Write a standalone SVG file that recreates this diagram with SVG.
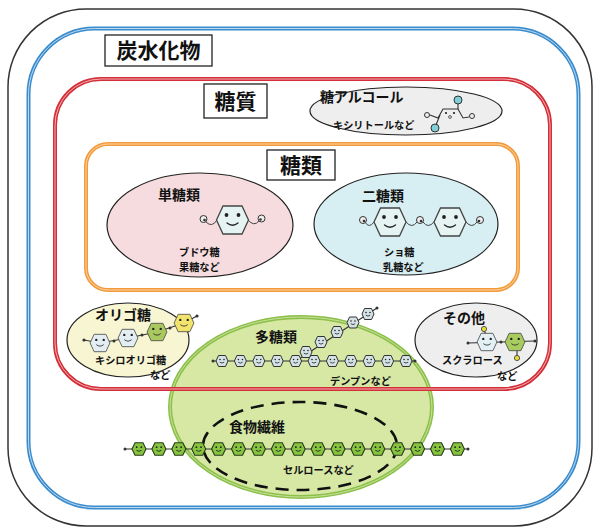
<svg xmlns="http://www.w3.org/2000/svg" xmlns:xlink="http://www.w3.org/1999/xlink" width="599" height="531" viewBox="0 0 599 531">
  <style>
    text { font-family: "Noto Sans CJK JP", "Noto Sans", sans-serif; font-weight: 700; fill: #111; }
    .title { font-size: 21px; }
    .label { font-size: 14px; }
    .small { font-size: 10.2px; }
    .tbox { fill: #fff; stroke: #222; stroke-width: 1.3; }
    .ell { stroke: #222; stroke-width: 1.2; }
    .hex { stroke: #444; stroke-width: 1.3; }
    .feat { fill: #222; }
    .smile { fill: none; stroke: #222; stroke-width: 1.3; stroke-linecap: round; }
    .arm { fill: none; stroke: #444; stroke-width: 1; }
    .bond { fill: none; stroke: #333; stroke-width: 1.1; }
    .knob { fill: #eee; stroke: #333; stroke-width: 1; }
    .dot { fill: #333; }
  </style>
  <defs>
    <!-- hexagon sugar unit with a face, unit size 16 -->
    <g id="sugar">
      <polygon class="hex" points="-16,0 -9.5,-14 9.5,-14 16,0 9.5,14 -9.5,14"/>
      <circle class="feat" cx="-6" cy="-5" r="1.9"/>
      <circle class="feat" cx="6" cy="-5" r="1.9"/>
      <path class="smile" d="M-5.5,3 Q0,7.5 5.5,3"/>
    </g>
    <!-- tiny chain unit -->
    <g id="bead">
      <polygon points="-6,0 -3.5,-5.5 3.5,-5.5 6,0 3.5,5.5 -3.5,5.5" stroke="#333" stroke-width="1"/>
      <circle class="feat" cx="-2" cy="-1.5" r="0.8"/>
      <circle class="feat" cx="2" cy="-1.5" r="0.8"/>
      <path d="M-2.2,1.2 Q0,3 2.2,1.2" fill="none" stroke="#222" stroke-width="0.8"/>
    </g>
    <g id="gbead">
      <polygon points="-7,0 -4,-6.3 4,-6.3 7,0 4,6.3 -4,6.3" stroke="#2a3a1a" stroke-width="1.1"/>
      <circle class="feat" cx="-2.3" cy="-1.8" r="0.9"/>
      <circle class="feat" cx="2.3" cy="-1.8" r="0.9"/>
      <path d="M-2.5,1.3 Q0,3.4 2.5,1.3" fill="none" stroke="#222" stroke-width="0.9"/>
    </g>
  </defs>

  <rect width="599" height="531" fill="#fff"/>

  <!-- polysaccharide area sits behind the frame lines -->
  <g id="polysaccharide-area">
    <ellipse cx="301" cy="407" rx="131" ry="90" fill="#d6e8a4" stroke="#8cc04a" stroke-width="4"/>
    <ellipse cx="301" cy="407" rx="131" ry="90" fill="none" stroke="#c8e09a" stroke-width="1"/>
  </g>

  <!-- nested frames -->
  <g id="carbohydrate">
    <rect x="8" y="9" width="584" height="517" rx="78" fill="none" stroke="#333" stroke-width="1.5"/>
    <rect x="28.5" y="28.5" width="550" height="479" rx="66" fill="none" stroke="#3a8ccd" stroke-width="4"/>
    <rect x="28.5" y="28.5" width="550" height="479" rx="66" fill="none" stroke="#bcd9f0" stroke-width="1"/>
    <rect class="tbox" x="105" y="35" width="107" height="31"/>
    <text class="title" x="158.5" y="58" text-anchor="middle">炭水化物</text>
  </g>

  <g id="sugar-group">
    <rect x="55" y="79" width="495" height="310" rx="46" fill="none" stroke="#d42e38" stroke-width="4"/>
    <rect x="55" y="79" width="495" height="310" rx="46" fill="none" stroke="#f2b0b4" stroke-width="1"/>
    <rect class="tbox" x="204" y="84" width="63" height="34"/>
    <text class="title" x="235.5" y="109" text-anchor="middle">糖質</text>
  </g>

  <g id="saccharides">
    <rect x="86" y="144" width="432" height="146" rx="22" fill="none" stroke="#f39a3a" stroke-width="4"/>
    <rect x="86" y="144" width="432" height="146" rx="22" fill="none" stroke="#fbd5a8" stroke-width="1"/>
    <rect class="tbox" x="267" y="150" width="68" height="30"/>
    <text class="title" x="301" y="173" text-anchor="middle">糖類</text>
  </g>

  <!-- sugar alcohol -->
  <g id="sugar-alcohol">
    <ellipse class="ell" cx="406" cy="111" rx="96" ry="24" fill="#eeeeee"/>
    <text class="label" x="320" y="102">糖アルコール</text>
    <text class="small" x="333" y="129">キシリトールなど</text>
    <path class="bond" d="M430,115 L438,118 L443,109 L458,109 L463,118 L469,117"/>
    <path class="bond" d="M458,109 L458,103 M440,115 L436,125"/>
    <circle cx="458" cy="100" r="4" fill="#7fcfd6" stroke="#333" stroke-width="1"/>
    <circle cx="435" cy="128" r="4" fill="#7fcfd6" stroke="#333" stroke-width="1"/>
    <circle class="knob" cx="427" cy="115" r="2.5"/>
    <circle class="knob" cx="472" cy="116" r="2.5"/>
    <circle class="feat" cx="446" cy="113" r="1.1"/>
    <circle class="feat" cx="454" cy="113" r="1.1"/>
    <circle cx="450" cy="117" r="1.4" fill="none" stroke="#333" stroke-width="0.8"/>
  </g>

  <!-- monosaccharides -->
  <g id="monosaccharides">
    <ellipse class="ell" cx="200" cy="225" rx="93" ry="52" fill="#f6dcde"/>
    <text class="label" x="158" y="200">単糖類</text>
    <path class="arm" d="M217,220 Q212,228 206,222"/>
    <path class="arm" d="M248,220 Q254,227 259,221"/>
    <circle class="knob" cx="203.5" cy="219" r="3.5"/>
    <circle class="dot" cx="204.5" cy="220" r="1.3"/>
    <circle class="knob" cx="261.5" cy="218.5" r="3.5"/>
    <circle class="dot" cx="260.5" cy="219.5" r="1.3"/>
    <use xlink:href="#sugar" href="#sugar" x="232.5" y="220" fill="#e6f3f3"/>
    <text class="small" x="179" y="256">ブドウ糖</text>
    <text class="small" x="179" y="270.5">果糖など</text>
  </g>

  <!-- disaccharides -->
  <g id="disaccharides">
    <ellipse class="ell" cx="406" cy="224" rx="92" ry="51" fill="#d7eef2"/>
    <text class="label" x="362" y="201">二糖類</text>
    <path class="arm" d="M374,222 Q369,229 365,222"/>
    <path class="arm" d="M406,222 Q412,229 417,222"/>
    <path class="arm" d="M423,222 Q428,229 434,222"/>
    <path class="arm" d="M466,222 Q472,229 477,222"/>
    <circle class="knob" cx="363" cy="220" r="3.5"/>
    <circle class="dot" cx="364" cy="221" r="1.3"/>
    <circle class="knob" cx="420" cy="220" r="3.5"/>
    <circle class="dot" cx="421" cy="221" r="1.3"/>
    <circle class="knob" cx="480" cy="220" r="3.5"/>
    <circle class="dot" cx="479" cy="221" r="1.3"/>
    <use xlink:href="#sugar" href="#sugar" x="390" y="222" fill="#e6f3f3"/>
    <use xlink:href="#sugar" href="#sugar" x="450" y="222" fill="#e6f3f3"/>
    <text class="small" x="384" y="256">ショ糖</text>
    <text class="small" x="383" y="270.5">乳糖など</text>
  </g>

  <!-- oligosaccharides -->
  <g id="oligosaccharides">
    <ellipse class="ell" cx="128" cy="340" rx="61" ry="37" fill="#f8f5d2"/>
    <text class="label" x="95" y="320">オリゴ糖</text>
    <path class="bond" d="M84,340 L100,343 L128,338 L157,332 L184,323 L197,316"/>
    <circle class="dot" cx="84" cy="340" r="1.6"/>
    <circle class="dot" cx="114" cy="341" r="1.5"/>
    <circle class="dot" cx="142" cy="335" r="1.5"/>
    <circle class="dot" cx="170" cy="328" r="1.5"/>
    <circle class="dot" cx="197" cy="316" r="1.6"/>
    <use xlink:href="#sugar" href="#sugar" transform="translate(100,343) scale(0.62)" fill="#e3eef3"/>
    <use xlink:href="#sugar" href="#sugar" transform="translate(128,338) scale(0.62)" fill="#e3eef3"/>
    <use xlink:href="#sugar" href="#sugar" transform="translate(157,332) scale(0.62)" fill="#a9c95e"/>
    <use xlink:href="#sugar" href="#sugar" transform="translate(184,323) scale(0.62)" fill="#f2e36c"/>
    <text class="small" x="95" y="364">キシロオリゴ糖</text>
    <text class="small" x="150" y="378.5">など</text>
  </g>

  <!-- others -->
  <g id="others">
    <ellipse class="ell" cx="476" cy="340" rx="61" ry="37" fill="#eeeeee"/>
    <text class="label" x="443" y="323">その他</text>
    <path class="bond" d="M468,343 L535,341"/>
    <path class="bond" d="M484,331 L486,334 M517,350 L517,357"/>
    <circle class="dot" cx="468" cy="343" r="1.5"/>
    <circle class="dot" cx="501" cy="342" r="1.5"/>
    <circle class="dot" cx="535" cy="341" r="1.5"/>
    <use xlink:href="#sugar" href="#sugar" transform="translate(487,342) scale(0.62)" fill="#e3f1f6"/>
    <use xlink:href="#sugar" href="#sugar" transform="translate(515,342) scale(0.62)" fill="#a9cc5e"/>
    <circle cx="484" cy="329" r="2.6" fill="#e8de3a" stroke="#333" stroke-width="0.8"/>
    <circle cx="517" cy="358" r="2.6" fill="#e8de3a" stroke="#333" stroke-width="0.8"/>
    <text class="small" x="442" y="364">スクラロース</text>
    <text class="small" x="497" y="380">など</text>
  </g>

  <!-- polysaccharides: starch -->
  <g id="polysaccharides">
    <text class="label" x="255" y="342">多糖類</text>
    <path class="bond" d="M213,361 L415,361 M296,361 L377,308"/>
    <circle class="dot" cx="213" cy="361" r="1.5"/>
    <circle class="dot" cx="415" cy="361" r="1.5"/>
    <circle class="dot" cx="377" cy="308" r="1.5"/>
    <g fill="#d4e2e6">
      <use xlink:href="#bead" href="#bead" x="222" y="361"/>
      <use xlink:href="#bead" href="#bead" x="240.4" y="361"/>
      <use xlink:href="#bead" href="#bead" x="258.8" y="361"/>
      <use xlink:href="#bead" href="#bead" x="277.2" y="361"/>
      <use xlink:href="#bead" href="#bead" x="295.6" y="361"/>
      <use xlink:href="#bead" href="#bead" x="314" y="361"/>
      <use xlink:href="#bead" href="#bead" x="332.4" y="361"/>
      <use xlink:href="#bead" href="#bead" x="350.8" y="361"/>
      <use xlink:href="#bead" href="#bead" x="369.2" y="361"/>
      <use xlink:href="#bead" href="#bead" x="387.6" y="361"/>
      <use xlink:href="#bead" href="#bead" x="406" y="361"/>
      <use xlink:href="#bead" href="#bead" x="306" y="352"/>
      <use xlink:href="#bead" href="#bead" x="321" y="342"/>
      <use xlink:href="#bead" href="#bead" x="337" y="332"/>
      <use xlink:href="#bead" href="#bead" x="353" y="322.5"/>
      <use xlink:href="#bead" href="#bead" x="368" y="314"/>
    </g>
    <text class="small" x="330" y="385">デンプンなど</text>
  </g>

  <!-- dietary fibre: cellulose -->
  <g id="dietary-fiber">
    <ellipse cx="300" cy="446" rx="97" ry="44" fill="none" stroke="#111" stroke-width="2.6" stroke-dasharray="13 8"/>
    <text class="label" x="229" y="432">食物繊維</text>
    <path class="bond" d="M125,449 L468,449"/>
    <circle class="dot" cx="125" cy="449" r="1.5"/>
    <circle class="dot" cx="468" cy="449" r="1.5"/>
    <g fill="#86c440">
      <use xlink:href="#gbead" href="#gbead" x="139" y="449"/>
      <use xlink:href="#gbead" href="#gbead" x="158.9" y="449"/>
      <use xlink:href="#gbead" href="#gbead" x="178.8" y="449"/>
      <use xlink:href="#gbead" href="#gbead" x="198.7" y="449"/>
      <use xlink:href="#gbead" href="#gbead" x="218.6" y="449"/>
      <use xlink:href="#gbead" href="#gbead" x="238.5" y="449"/>
      <use xlink:href="#gbead" href="#gbead" x="258.4" y="449"/>
      <use xlink:href="#gbead" href="#gbead" x="278.3" y="449"/>
      <use xlink:href="#gbead" href="#gbead" x="298.2" y="449"/>
      <use xlink:href="#gbead" href="#gbead" x="318.1" y="449"/>
      <use xlink:href="#gbead" href="#gbead" x="338" y="449"/>
      <use xlink:href="#gbead" href="#gbead" x="357.9" y="449"/>
      <use xlink:href="#gbead" href="#gbead" x="377.8" y="449"/>
      <use xlink:href="#gbead" href="#gbead" x="397.7" y="449"/>
      <use xlink:href="#gbead" href="#gbead" x="417.6" y="449"/>
      <use xlink:href="#gbead" href="#gbead" x="437.5" y="449"/>
      <use xlink:href="#gbead" href="#gbead" x="457.4" y="449"/>
    </g>
    <text class="small" x="283" y="474">セルロースなど</text>
  </g>
</svg>
